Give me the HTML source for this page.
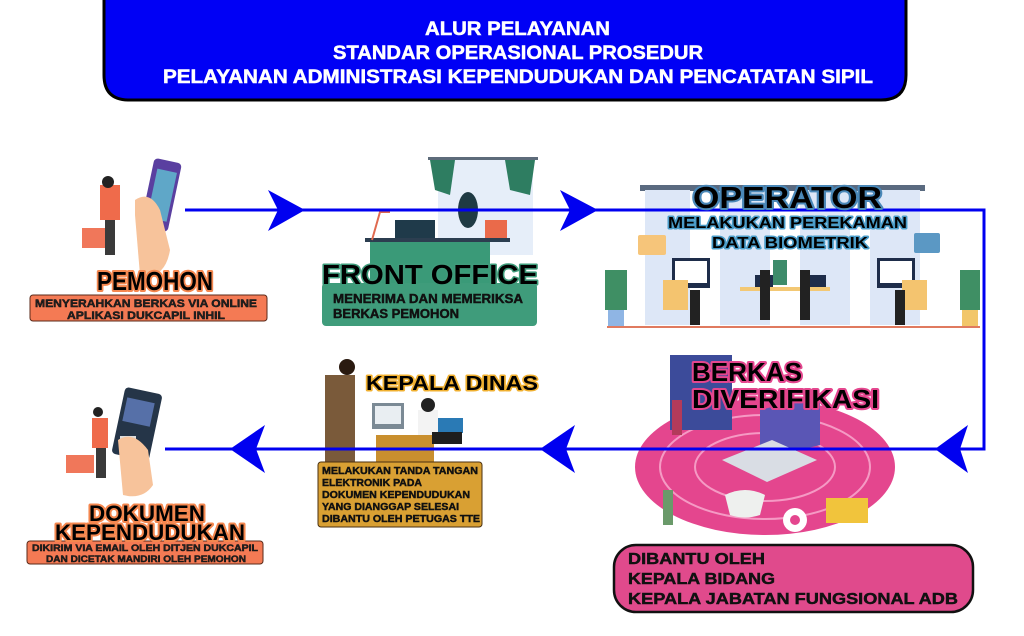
<!DOCTYPE html>
<html><head><meta charset="utf-8"><style>
html,body{margin:0;padding:0;background:#fff;width:1024px;height:636px;overflow:hidden}
svg{display:block}
text{font-family:"Liberation Sans",sans-serif;font-weight:bold}
.glow{paint-order:stroke;stroke-linejoin:round}
.thick{stroke:#111;stroke-width:0.45}
</style></head><body>
<svg width="1024" height="636" viewBox="0 0 1024 636">
<!-- header -->
<path d="M104,-5 H906 V75 Q906,100 881,100 H129 Q104,100 104,75 Z" fill="#0000f5" stroke="#000" stroke-width="3"/>
<g fill="#fff" font-size="19" font-weight="bold" stroke="#fff" stroke-width="0.5">
<text x="425" y="35" textLength="185" lengthAdjust="spacingAndGlyphs">ALUR PELAYANAN</text>
<text x="333" y="59" textLength="370" lengthAdjust="spacingAndGlyphs">STANDAR OPERASIONAL PROSEDUR</text>
<text x="163" y="83" textLength="710" lengthAdjust="spacingAndGlyphs">PELAYANAN ADMINISTRASI KEPENDUDUKAN DAN PENCATATAN SIPIL</text>
</g>

<!-- operator illustration background -->
<g>
<rect x="640" y="185" width="285" height="6" fill="#5a6a80"/>
<rect x="645" y="190" width="45" height="135" fill="#dde7f7"/>
<rect x="720" y="190" width="50" height="135" fill="#dde7f7"/>
<rect x="800" y="190" width="50" height="135" fill="#dde7f7"/>
<rect x="870" y="190" width="50" height="135" fill="#dde7f7"/>
<rect x="638" y="235" width="28" height="20" rx="2" fill="#f6c57a"/>
<rect x="914" y="233" width="26" height="20" rx="2" fill="#5b98c4"/>
<rect x="672" y="258" width="38" height="30" fill="#1e2d4a"/><rect x="675" y="261" width="32" height="22" fill="#fff"/>
<rect x="877" y="258" width="38" height="30" fill="#1e2d4a"/><rect x="880" y="261" width="32" height="22" fill="#fff"/>
<rect x="663" y="280" width="25" height="30" fill="#f4c46f"/>
<rect x="902" y="280" width="25" height="30" fill="#f4c46f"/>
<rect x="740" y="287" width="90" height="4" fill="#f3c874"/>
<rect x="755" y="275" width="18" height="12" fill="#1e2d4a"/>
<rect x="808" y="275" width="18" height="12" fill="#1e2d4a"/>
<rect x="773" y="260" width="14" height="25" fill="#3d8b6a"/>
<rect x="605" y="270" width="22" height="40" fill="#3f8f64"/><rect x="608" y="310" width="16" height="16" fill="#8fb5e4"/>
<rect x="960" y="270" width="20" height="40" fill="#3f8f64"/><rect x="962" y="310" width="16" height="16" fill="#f2c66a"/>
<rect x="760" y="270" width="10" height="50" fill="#222"/>
<rect x="800" y="270" width="10" height="50" fill="#222"/>
<rect x="690" y="290" width="10" height="35" fill="#222"/>
<rect x="895" y="290" width="10" height="35" fill="#222"/>
<rect x="607" y="326" width="373" height="2" fill="#e07a5f"/>
</g>

<!-- front office illustration -->
<g>
<rect x="428" y="157" width="110" height="3" fill="#5d6b7a"/>
<rect x="438" y="160" width="95" height="95" fill="#e6eef9"/>
<path d="M430,160 l25,0 l-5,35 l-15,-5 z" fill="#2e7d61"/>
<path d="M505,160 l30,0 l-5,35 l-20,-5 z" fill="#2e7d61"/>
<ellipse cx="468" cy="210" rx="10" ry="18" fill="#1f3a44"/>
<rect x="485" y="220" width="22" height="22" fill="#ea6a4a"/>
<rect x="365" y="238" width="145" height="4" fill="#2c3e50"/>
<rect x="370" y="242" width="120" height="42" fill="#3a9a78"/>
<rect x="395" y="220" width="40" height="18" fill="#1f3a4a"/>
<path d="M372,240 l8,-28 l10,0" stroke="#e06a50" stroke-width="2" fill="none"/>
</g>

<!-- pemohon illustrations -->
<g>
<rect x="147" y="160" width="28" height="70" rx="4" fill="#5a3fa0" transform="rotate(12 161 195)"/>
<rect x="152" y="170" width="20" height="50" fill="#5fa7c8" transform="rotate(12 161 195)"/>
<path d="M135,200 q15,-10 25,10 l10,40 q-5,30 -30,25 l-5,-60z" fill="#f7c39b"/>
<rect x="100" y="185" width="20" height="35" fill="#ef6b4b"/>
<rect x="82" y="228" width="32" height="20" fill="#f0775a"/>
<rect x="105" y="220" width="10" height="35" fill="#3a3a3a"/>
<circle cx="108" cy="182" r="6" fill="#222"/>
</g>
<g>
<rect x="118" y="390" width="38" height="68" rx="4" fill="#253548" transform="rotate(12 137 424)"/>
<rect x="122" y="400" width="28" height="24" fill="#5670a8" transform="rotate(12 137 424)"/>
<rect x="120" y="436" width="16" height="16" fill="#ddd"/>
<path d="M118,440 q15,-10 30,10 l5,35 q-10,15 -30,10z" fill="#f7c39b"/>
<rect x="92" y="418" width="16" height="30" fill="#ef6b4b"/>
<rect x="66" y="455" width="28" height="18" fill="#f0775a"/>
<rect x="96" y="448" width="10" height="30" fill="#3a3a3a"/>
<circle cx="98" cy="412" r="5" fill="#222"/>
</g>

<!-- kepala dinas illustration -->
<g>
<rect x="325" y="375" width="30" height="95" fill="#7a5a3a"/>
<circle cx="347" cy="367" r="8" fill="#2a1a10"/>
<rect x="376" y="435" width="58" height="30" fill="#c98f2e"/>
<rect x="372" y="403" width="32" height="26" fill="#7b8a95"/><rect x="375" y="406" width="26" height="18" fill="#e9eef2"/>
<rect x="418" y="410" width="20" height="25" fill="#f3f3f3"/>
<rect x="438" y="418" width="25" height="15" fill="#2a7ab5"/>
<rect x="432" y="432" width="30" height="12" fill="#1e1e1e"/>
<circle cx="428" cy="405" r="7" fill="#222"/>
</g>

<!-- berkas diverifikasi illustration -->
<g>
<ellipse cx="765" cy="467" rx="130" ry="68" fill="#e4468e"/>
<ellipse cx="765" cy="467" rx="105" ry="52" fill="none" stroke="#f59ac4" stroke-width="2"/>
<ellipse cx="765" cy="467" rx="70" ry="34" fill="none" stroke="#f59ac4" stroke-width="2"/>
<rect x="670" y="355" width="62" height="75" fill="#3c4b9a"/>
<path d="M760,410 l60,-15 l0,50 l-60,15z" fill="#5a56b5"/>
<path d="M722,460 l50,-20 l45,20 l-50,22z" fill="#d9dde4"/>
<path d="M725,495 q20,-10 40,0 l-5,20 q-15,5 -30,0z" fill="#eef0ee"/>
<rect x="826" y="498" width="42" height="25" fill="#f1c43c"/>
<circle cx="795" cy="520" r="12" fill="#fff"/><circle cx="795" cy="520" r="5" fill="#e4468e"/>
<rect x="663" y="490" width="10" height="35" fill="#6a9a6a"/>
<rect x="672" y="400" width="10" height="35" fill="#b33a5a"/>
</g>

<!-- connectors -->
<g fill="none" stroke="#0000f0" stroke-width="3">
<path d="M185,210 H984 V449 H165"/>
</g>
<g fill="#0000f0">
<path d="M268,190 L305,210 L268,231 L278,210 Z"/>
<path d="M560,190 L598,210 L560,231 L570,210 Z"/>
<path d="M968,425 L935,449 L968,473 L960,449 Z"/>
<path d="M575,425 L540,449 L575,473 L566,449 Z"/>
<path d="M265,425 L230,449 L265,473 L256,449 Z"/>
</g>

<!-- PEMOHON -->
<text x="97" y="290" font-size="26" textLength="116" lengthAdjust="spacingAndGlyphs" class="glow" stroke="#f4874f" stroke-width="4" fill="#000">PEMOHON</text>
<rect x="30" y="295" width="237" height="26" rx="3" fill="#f47a54" stroke="#5a2a1a" stroke-width="1"/>
<g font-size="11" fill="#222" class="thick">
<text x="35" y="307" textLength="222" lengthAdjust="spacingAndGlyphs">MENYERAHKAN BERKAS VIA ONLINE</text>
<text x="67" y="319" textLength="158" lengthAdjust="spacingAndGlyphs">APLIKASI DUKCAPIL INHIL</text>
</g>

<!-- FRONT OFFICE -->
<rect x="322" y="283" width="215" height="43" rx="4" fill="#3f9c7b"/>
<text x="322" y="284" font-size="28" textLength="216" lengthAdjust="spacingAndGlyphs" class="glow" stroke="#3f9c7b" stroke-width="3" fill="#000">FRONT OFFICE</text>
<g font-size="12.5" fill="#111" class="thick">
<text x="333" y="303" textLength="190" lengthAdjust="spacingAndGlyphs">MENERIMA DAN MEMERIKSA</text>
<text x="333" y="318" textLength="126" lengthAdjust="spacingAndGlyphs">BERKAS PEMOHON</text>
</g>

<!-- OPERATOR -->
<text x="693" y="208" font-size="31" textLength="189" lengthAdjust="spacingAndGlyphs" class="glow" stroke="#4a88b8" stroke-width="4" fill="#000">OPERATOR</text>
<g font-size="16" class="glow" stroke="#4a9cc8" stroke-width="3" fill="#000">
<text x="668" y="228" textLength="239" lengthAdjust="spacingAndGlyphs">MELAKUKAN PEREKAMAN</text>
<text x="712" y="248" textLength="156" lengthAdjust="spacingAndGlyphs">DATA BIOMETRIK</text>
</g>

<!-- BERKAS DIVERIFIKASI -->
<g font-size="26" class="glow" stroke="#e4468e" stroke-width="4" fill="#000">
<text x="692" y="381" textLength="110" lengthAdjust="spacingAndGlyphs">BERKAS</text>
<text x="692" y="408" textLength="187" lengthAdjust="spacingAndGlyphs">DIVERIFIKASI</text>
</g>
<rect x="614" y="545" width="359" height="67" rx="22" fill="#e04a8c" stroke="#111" stroke-width="2.5"/>
<g font-size="16" fill="#111" class="thick">
<text x="628" y="564" textLength="137" lengthAdjust="spacingAndGlyphs">DIBANTU OLEH</text>
<text x="628" y="584" textLength="147" lengthAdjust="spacingAndGlyphs">KEPALA BIDANG</text>
<text x="628" y="604" textLength="330" lengthAdjust="spacingAndGlyphs">KEPALA JABATAN FUNGSIONAL ADB</text>
</g>

<!-- KEPALA DINAS -->
<text x="366" y="390" font-size="20" textLength="172" lengthAdjust="spacingAndGlyphs" class="glow" stroke="#f0b030" stroke-width="3" fill="#000">KEPALA DINAS</text>
<rect x="318" y="462" width="164" height="65" rx="3" fill="#d9a033" stroke="#4a3010" stroke-width="1"/>
<g font-size="10" fill="#111" class="thick">
<text x="322" y="474" textLength="156" lengthAdjust="spacingAndGlyphs">MELAKUKAN TANDA TANGAN</text>
<text x="322" y="486" textLength="100" lengthAdjust="spacingAndGlyphs">ELEKTRONIK PADA</text>
<text x="322" y="498" textLength="148" lengthAdjust="spacingAndGlyphs">DOKUMEN KEPENDUDUKAN</text>
<text x="322" y="510" textLength="137" lengthAdjust="spacingAndGlyphs">YANG DIANGGAP SELESAI</text>
<text x="322" y="522" textLength="158" lengthAdjust="spacingAndGlyphs">DIBANTU OLEH PETUGAS TTE</text>
</g>

<!-- DOKUMEN -->
<rect x="27" y="541" width="236" height="23" rx="3" fill="#f47a54" stroke="#5a2a1a" stroke-width="1"/>
<g font-size="22" class="glow" stroke="#f4874f" stroke-width="4" fill="#000">
<text x="89" y="521" textLength="116" lengthAdjust="spacingAndGlyphs">DOKUMEN</text>
<text x="55" y="540" textLength="190" lengthAdjust="spacingAndGlyphs">KEPENDUDUKAN</text>
</g>
<g font-size="9.5" fill="#222" class="thick">
<text x="32" y="551" textLength="226" lengthAdjust="spacingAndGlyphs">DIKIRIM VIA EMAIL OLEH DITJEN DUKCAPIL</text>
<text x="46" y="562" textLength="200" lengthAdjust="spacingAndGlyphs">DAN DICETAK MANDIRI OLEH PEMOHON</text>
</g>
</svg>
</body></html>
